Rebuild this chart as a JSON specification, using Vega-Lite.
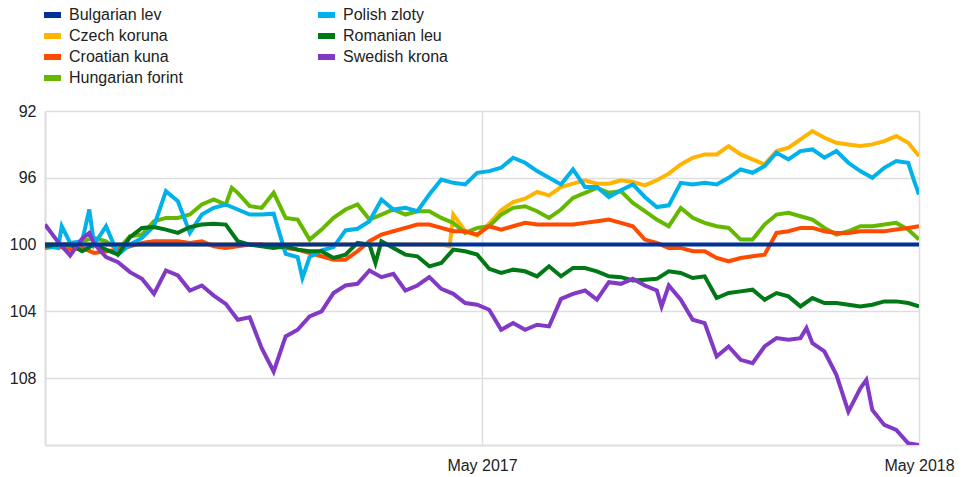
{
  "$schema": "https://vega.github.io/schema/vega-lite/v6.json",
  "width": 874,
  "height": 334,
  "autosize": {"type": "none"},
  "padding": {"left": 45, "top": 111, "right": 47, "bottom": 32},
  "config": {"view": {"stroke": null}, "font": "Liberation Sans"},
  "data": {"values": [
    {"date": "2016-05-01", "Bulgarian lev": 100, "Czech koruna": 100.0, "Croatian kuna": 100.2, "Hungarian forint": 100.0, "Polish zloty": 100.1, "Romanian leu": 100.1, "Swedish krona": 98.8},
    {"date": "2016-05-12", "Czech koruna": 100.0, "Croatian kuna": 100.1, "Hungarian forint": 100.0, "Polish zloty": 100.2, "Romanian leu": 100.0, "Swedish krona": 99.85},
    {"date": "2016-05-15", "Polish zloty": 98.9},
    {"date": "2016-05-22", "Czech koruna": 100.0, "Croatian kuna": 100.3, "Hungarian forint": 100.2, "Polish zloty": 99.9, "Romanian leu": 100.0, "Swedish krona": 100.65},
    {"date": "2016-06-01", "Czech koruna": 100.0, "Croatian kuna": 100.2, "Hungarian forint": 99.8, "Polish zloty": 99.8, "Romanian leu": 100.4, "Swedish krona": 99.65},
    {"date": "2016-06-07", "Polish zloty": 97.9, "Swedish krona": 99.3},
    {"date": "2016-06-11", "Czech koruna": 100.0, "Croatian kuna": 100.5, "Hungarian forint": 99.6, "Polish zloty": 100.0, "Romanian leu": 100.0, "Swedish krona": 99.95},
    {"date": "2016-06-21", "Czech koruna": 100.0, "Croatian kuna": 100.4, "Hungarian forint": 99.8, "Polish zloty": 98.9, "Romanian leu": 100.3, "Swedish krona": 100.75},
    {"date": "2016-07-01", "Czech koruna": 100.0, "Croatian kuna": 100.3, "Hungarian forint": 100.3, "Polish zloty": 100.6, "Romanian leu": 100.6, "Swedish krona": 101.05},
    {"date": "2016-07-11", "Czech koruna": 100.0, "Croatian kuna": 100.1, "Hungarian forint": 99.5, "Polish zloty": 100.0, "Romanian leu": 99.55, "Swedish krona": 101.65},
    {"date": "2016-07-21", "Czech koruna": 100.0, "Croatian kuna": 99.9, "Hungarian forint": 99.4, "Polish zloty": 99.6, "Romanian leu": 99.0, "Swedish krona": 102.05},
    {"date": "2016-07-31", "Czech koruna": 100.0, "Croatian kuna": 99.8, "Hungarian forint": 98.6, "Polish zloty": 98.9, "Romanian leu": 98.95, "Swedish krona": 102.95},
    {"date": "2016-08-10", "Czech koruna": 100.0, "Croatian kuna": 99.8, "Hungarian forint": 98.4, "Polish zloty": 96.8, "Romanian leu": 99.1, "Swedish krona": 101.55},
    {"date": "2016-08-20", "Czech koruna": 100.0, "Croatian kuna": 99.8, "Hungarian forint": 98.4, "Polish zloty": 97.4, "Romanian leu": 99.3, "Swedish krona": 101.85},
    {"date": "2016-08-30", "Czech koruna": 100.0, "Croatian kuna": 99.9, "Hungarian forint": 98.2, "Polish zloty": 99.3, "Romanian leu": 98.95, "Swedish krona": 102.75},
    {"date": "2016-09-09", "Czech koruna": 100.0, "Croatian kuna": 99.8, "Hungarian forint": 97.6, "Polish zloty": 98.2, "Romanian leu": 98.8, "Swedish krona": 102.45},
    {"date": "2016-09-19", "Czech koruna": 100.0, "Croatian kuna": 100.1, "Hungarian forint": 97.3, "Polish zloty": 97.8, "Romanian leu": 98.75, "Swedish krona": 103.05},
    {"date": "2016-09-29", "Czech koruna": 100.0, "Croatian kuna": 100.2, "Hungarian forint": 97.6, "Polish zloty": 97.6, "Romanian leu": 98.8, "Swedish krona": 103.55},
    {"date": "2016-10-04", "Hungarian forint": 96.6},
    {"date": "2016-10-09", "Czech koruna": 100.0, "Croatian kuna": 100.1, "Hungarian forint": 96.9, "Polish zloty": 97.9, "Romanian leu": 99.8, "Swedish krona": 104.5},
    {"date": "2016-10-19", "Czech koruna": 100.0, "Croatian kuna": 100.0, "Hungarian forint": 97.7, "Polish zloty": 98.2, "Romanian leu": 100.0, "Swedish krona": 104.35},
    {"date": "2016-10-29", "Czech koruna": 100.0, "Croatian kuna": 100.0, "Hungarian forint": 97.8, "Polish zloty": 98.2, "Romanian leu": 100.1, "Swedish krona": 106.2},
    {"date": "2016-11-08", "Czech koruna": 100.0, "Croatian kuna": 100.1, "Hungarian forint": 96.9, "Polish zloty": 98.15, "Romanian leu": 100.2, "Swedish krona": 107.6},
    {"date": "2016-11-18", "Czech koruna": 100.0, "Croatian kuna": 100.2, "Hungarian forint": 98.4, "Polish zloty": 100.55, "Romanian leu": 100.1, "Swedish krona": 105.5},
    {"date": "2016-11-28", "Czech koruna": 100.0, "Croatian kuna": 100.3, "Hungarian forint": 98.5, "Polish zloty": 100.75, "Romanian leu": 100.3, "Swedish krona": 105.1},
    {"date": "2016-12-02", "Polish zloty": 102.0},
    {"date": "2016-12-08", "Czech koruna": 100.0, "Croatian kuna": 100.5, "Hungarian forint": 99.7, "Polish zloty": 100.75, "Romanian leu": 100.4, "Swedish krona": 104.3},
    {"date": "2016-12-18", "Czech koruna": 100.0, "Croatian kuna": 100.7, "Hungarian forint": 99.1, "Polish zloty": 100.35, "Romanian leu": 100.4, "Swedish krona": 104.0},
    {"date": "2016-12-28", "Czech koruna": 100.0, "Croatian kuna": 100.9, "Hungarian forint": 98.4, "Polish zloty": 100.15, "Romanian leu": 100.8, "Swedish krona": 102.9},
    {"date": "2017-01-07", "Czech koruna": 100.0, "Croatian kuna": 100.9, "Hungarian forint": 97.9, "Polish zloty": 99.15, "Romanian leu": 100.6, "Swedish krona": 102.45},
    {"date": "2017-01-17", "Czech koruna": 100.0, "Croatian kuna": 100.4, "Hungarian forint": 97.6, "Polish zloty": 99.05, "Romanian leu": 99.9, "Swedish krona": 102.35},
    {"date": "2017-01-27", "Czech koruna": 100.0, "Croatian kuna": 99.8, "Hungarian forint": 98.5, "Polish zloty": 98.6, "Romanian leu": 100.0, "Swedish krona": 101.55},
    {"date": "2017-02-01", "Romanian leu": 101.1},
    {"date": "2017-02-06", "Czech koruna": 100.0, "Croatian kuna": 99.4, "Hungarian forint": 98.2, "Polish zloty": 97.3, "Romanian leu": 99.8, "Swedish krona": 101.95},
    {"date": "2017-02-16", "Czech koruna": 100.0, "Croatian kuna": 99.2, "Hungarian forint": 97.9, "Polish zloty": 97.9, "Romanian leu": 100.2, "Swedish krona": 101.75},
    {"date": "2017-02-26", "Czech koruna": 100.0, "Croatian kuna": 99.0, "Hungarian forint": 98.2, "Polish zloty": 97.8, "Romanian leu": 100.6, "Swedish krona": 102.75},
    {"date": "2017-03-08", "Czech koruna": 100.0, "Croatian kuna": 98.8, "Hungarian forint": 98.0, "Polish zloty": 98.0, "Romanian leu": 100.7, "Swedish krona": 102.45},
    {"date": "2017-03-18", "Czech koruna": 100.0, "Croatian kuna": 98.8, "Hungarian forint": 98.0, "Polish zloty": 97.0, "Romanian leu": 101.3, "Swedish krona": 101.95},
    {"date": "2017-03-28", "Czech koruna": 100.0, "Croatian kuna": 99.0, "Hungarian forint": 98.4, "Polish zloty": 96.1, "Romanian leu": 101.1, "Swedish krona": 102.65},
    {"date": "2017-04-04", "Czech koruna": 100.1},
    {"date": "2017-04-07", "Czech koruna": 98.2, "Croatian kuna": 99.2, "Hungarian forint": 98.7, "Polish zloty": 96.3, "Romanian leu": 100.3, "Swedish krona": 102.95},
    {"date": "2017-04-17", "Czech koruna": 99.2, "Croatian kuna": 99.2, "Hungarian forint": 99.3, "Polish zloty": 96.4, "Romanian leu": 100.4, "Swedish krona": 103.5},
    {"date": "2017-04-27", "Czech koruna": 99.45, "Croatian kuna": 99.4, "Hungarian forint": 99.0, "Polish zloty": 95.7, "Romanian leu": 100.6, "Swedish krona": 103.6},
    {"date": "2017-05-07", "Czech koruna": 98.75, "Croatian kuna": 98.9, "Hungarian forint": 98.9, "Polish zloty": 95.6, "Romanian leu": 101.45, "Swedish krona": 103.9},
    {"date": "2017-05-17", "Czech koruna": 97.95, "Croatian kuna": 99.1, "Hungarian forint": 98.2, "Polish zloty": 95.4, "Romanian leu": 101.7, "Swedish krona": 105.1},
    {"date": "2017-05-27", "Czech koruna": 97.45, "Croatian kuna": 98.9, "Hungarian forint": 97.8, "Polish zloty": 94.8, "Romanian leu": 101.5, "Swedish krona": 104.7},
    {"date": "2017-06-06", "Czech koruna": 97.25, "Croatian kuna": 98.7, "Hungarian forint": 97.7, "Polish zloty": 95.1, "Romanian leu": 101.6, "Swedish krona": 105.1},
    {"date": "2017-06-16", "Czech koruna": 96.85, "Croatian kuna": 98.8, "Hungarian forint": 98.0, "Polish zloty": 95.6, "Romanian leu": 101.9, "Swedish krona": 104.8},
    {"date": "2017-06-26", "Czech koruna": 97.05, "Croatian kuna": 98.8, "Hungarian forint": 98.4, "Polish zloty": 96.0, "Romanian leu": 101.3, "Swedish krona": 104.9},
    {"date": "2017-07-06", "Czech koruna": 96.55, "Croatian kuna": 98.8, "Hungarian forint": 97.9, "Polish zloty": 96.4, "Romanian leu": 101.9, "Swedish krona": 103.25},
    {"date": "2017-07-16", "Czech koruna": 96.35, "Croatian kuna": 98.8, "Hungarian forint": 97.2, "Polish zloty": 95.5, "Romanian leu": 101.4, "Swedish krona": 102.95},
    {"date": "2017-07-26", "Czech koruna": 96.15, "Croatian kuna": 98.7, "Hungarian forint": 96.9, "Polish zloty": 96.55, "Romanian leu": 101.4, "Swedish krona": 102.75},
    {"date": "2017-08-05", "Czech koruna": 96.35, "Croatian kuna": 98.6, "Hungarian forint": 96.6, "Polish zloty": 96.55, "Romanian leu": 101.6, "Swedish krona": 103.3},
    {"date": "2017-08-15", "Czech koruna": 96.35, "Croatian kuna": 98.5, "Hungarian forint": 96.9, "Polish zloty": 97.15, "Romanian leu": 101.9, "Swedish krona": 102.25},
    {"date": "2017-08-25", "Czech koruna": 96.15, "Croatian kuna": 98.7, "Hungarian forint": 96.8, "Polish zloty": 96.75, "Romanian leu": 101.95, "Swedish krona": 102.35},
    {"date": "2017-09-04", "Czech koruna": 96.25, "Croatian kuna": 98.9, "Hungarian forint": 97.5, "Polish zloty": 96.4, "Romanian leu": 102.15, "Swedish krona": 102.05},
    {"date": "2017-09-14", "Czech koruna": 96.45, "Croatian kuna": 99.7, "Hungarian forint": 98.0, "Polish zloty": 97.15, "Romanian leu": 102.1, "Swedish krona": 102.45},
    {"date": "2017-09-24", "Czech koruna": 96.15, "Croatian kuna": 99.9, "Hungarian forint": 98.5, "Polish zloty": 97.75, "Romanian leu": 102.05, "Swedish krona": 102.75},
    {"date": "2017-09-28", "Swedish krona": 103.7},
    {"date": "2017-10-04", "Czech koruna": 95.75, "Croatian kuna": 100.2, "Hungarian forint": 98.9, "Polish zloty": 97.65, "Romanian leu": 101.6, "Swedish krona": 102.45},
    {"date": "2017-10-14", "Czech koruna": 95.2, "Croatian kuna": 100.2, "Hungarian forint": 97.8, "Polish zloty": 96.3, "Romanian leu": 101.7, "Swedish krona": 103.3},
    {"date": "2017-10-24", "Czech koruna": 94.8, "Croatian kuna": 100.4, "Hungarian forint": 98.4, "Polish zloty": 96.4, "Romanian leu": 102.0, "Swedish krona": 104.5},
    {"date": "2017-11-03", "Czech koruna": 94.6, "Croatian kuna": 100.4, "Hungarian forint": 98.7, "Polish zloty": 96.3, "Romanian leu": 101.9, "Swedish krona": 104.7},
    {"date": "2017-11-13", "Czech koruna": 94.6, "Croatian kuna": 100.8, "Hungarian forint": 98.9, "Polish zloty": 96.4, "Romanian leu": 103.2, "Swedish krona": 106.7},
    {"date": "2017-11-23", "Czech koruna": 94.1, "Croatian kuna": 101.0, "Hungarian forint": 99.0, "Polish zloty": 96.0, "Romanian leu": 102.9, "Swedish krona": 106.1},
    {"date": "2017-12-03", "Czech koruna": 94.6, "Croatian kuna": 100.8, "Hungarian forint": 99.7, "Polish zloty": 95.5, "Romanian leu": 102.8, "Swedish krona": 106.9},
    {"date": "2017-12-13", "Czech koruna": 94.9, "Croatian kuna": 100.7, "Hungarian forint": 99.7, "Polish zloty": 95.7, "Romanian leu": 102.7, "Swedish krona": 107.1},
    {"date": "2017-12-23", "Czech koruna": 95.2, "Croatian kuna": 100.6, "Hungarian forint": 98.8, "Polish zloty": 95.3, "Romanian leu": 103.3, "Swedish krona": 106.1},
    {"date": "2018-01-02", "Czech koruna": 94.4, "Croatian kuna": 99.3, "Hungarian forint": 98.2, "Polish zloty": 94.5, "Romanian leu": 102.9, "Swedish krona": 105.6},
    {"date": "2018-01-12", "Czech koruna": 94.2, "Croatian kuna": 99.2, "Hungarian forint": 98.1, "Polish zloty": 94.9, "Romanian leu": 103.1, "Swedish krona": 105.7},
    {"date": "2018-01-22", "Czech koruna": 93.7, "Croatian kuna": 99.0, "Hungarian forint": 98.3, "Polish zloty": 94.4, "Romanian leu": 103.7, "Swedish krona": 105.6},
    {"date": "2018-01-27", "Swedish krona": 105.0},
    {"date": "2018-02-01", "Czech koruna": 93.2, "Croatian kuna": 99.0, "Hungarian forint": 98.5, "Polish zloty": 94.3, "Romanian leu": 103.2, "Swedish krona": 105.9},
    {"date": "2018-02-11", "Czech koruna": 93.6, "Croatian kuna": 99.2, "Hungarian forint": 99.0, "Polish zloty": 94.8, "Romanian leu": 103.5, "Swedish krona": 106.4},
    {"date": "2018-02-21", "Czech koruna": 93.9, "Croatian kuna": 99.3, "Hungarian forint": 99.4, "Polish zloty": 94.4, "Romanian leu": 103.5, "Swedish krona": 107.8},
    {"date": "2018-03-03", "Czech koruna": 94.0, "Croatian kuna": 99.3, "Hungarian forint": 99.2, "Polish zloty": 95.1, "Romanian leu": 103.6, "Swedish krona": 110.0},
    {"date": "2018-03-13", "Czech koruna": 94.1, "Croatian kuna": 99.2, "Hungarian forint": 98.9, "Polish zloty": 95.6, "Romanian leu": 103.7, "Swedish krona": 108.6},
    {"date": "2018-03-18", "Swedish krona": 108.1},
    {"date": "2018-03-23", "Czech koruna": 94.0, "Croatian kuna": 99.2, "Hungarian forint": 98.9, "Polish zloty": 96.0, "Romanian leu": 103.6, "Swedish krona": 109.9},
    {"date": "2018-04-02", "Czech koruna": 93.8, "Croatian kuna": 99.2, "Hungarian forint": 98.8, "Polish zloty": 95.4, "Romanian leu": 103.4, "Swedish krona": 110.8},
    {"date": "2018-04-12", "Czech koruna": 93.5, "Croatian kuna": 99.1, "Hungarian forint": 98.7, "Polish zloty": 95.0, "Romanian leu": 103.4, "Swedish krona": 111.1},
    {"date": "2018-04-22", "Czech koruna": 93.9, "Croatian kuna": 99.0, "Hungarian forint": 99.1, "Polish zloty": 95.1, "Romanian leu": 103.5, "Swedish krona": 111.9},
    {"date": "2018-04-27", "Polish zloty": 96.2},
    {"date": "2018-05-01", "Bulgarian lev": 100, "Czech koruna": 94.7, "Croatian kuna": 98.9, "Hungarian forint": 99.7, "Polish zloty": 97.0, "Romanian leu": 103.7, "Swedish krona": 112.0}
  ]},
  "transform": [
    {"fold": ["Czech koruna", "Hungarian forint", "Croatian kuna", "Polish zloty", "Romanian leu", "Swedish krona", "Bulgarian lev"], "as": ["currency", "value"]},
    {"filter": "isValid(datum.value)"}
  ],
  "mark": {"type": "line", "strokeWidth": 4, "clip": true},
  "encoding": {
    "x": {
      "field": "date", "type": "temporal",
      "scale": {"type": "utc", "domain": [{"year": 2016, "month": 5, "date": 1, "utc": true}, {"year": 2018, "month": 5, "date": 1, "utc": true}]},
      "axis": {
        "title": null,
        "values": [{"year": 2017, "month": 5, "date": 1, "utc": true}, {"year": 2018, "month": 5, "date": 1, "utc": true}],
        "format": "%b %Y",
        "ticks": false,
        "labelPadding": 12,
        "labelFontSize": 16,
        "labelColor": "#222222",
        "labelFlush": false,
        "grid": true,
        "gridColor": "#dddddd",
        "gridWidth": 1.5,
        "domainColor": "#dddddd",
        "domainWidth": 2
      }
    },
    "y": {
      "field": "value", "type": "quantitative",
      "scale": {"domain": [92, 112], "reverse": true, "zero": false, "nice": false},
      "axis": {
        "title": null,
        "values": [92, 96, 100, 104, 108],
        "ticks": false,
        "labelPadding": 9,
        "labelFontSize": 16,
        "labelColor": "#222222",
        "grid": true,
        "gridColor": "#dddddd",
        "gridWidth": 1.5,
        "domainColor": "#dddddd",
        "domainWidth": 2
      }
    },
    "color": {
      "field": "currency", "type": "nominal",
      "scale": {
        "domain": ["Bulgarian lev", "Czech koruna", "Croatian kuna", "Hungarian forint", "Polish zloty", "Romanian leu", "Swedish krona"],
        "range": ["#003299", "#FFB400", "#FF4B00", "#65B800", "#00B1EA", "#007816", "#8139C6"]
      },
      "legend": {
        "orient": "none",
        "legendX": -4,
        "legendY": -104.5,
        "direction": "vertical",
        "columns": 2,
        "columnPadding": 132,
        "rowPadding": 4,
        "clipHeight": 17,
        "title": null,
        "padding": 0,
        "symbolType": "stroke",
        "symbolSize": 289,
        "symbolStrokeWidth": 6,
        "labelFontSize": 16,
        "labelColor": "#222222",
        "labelOffset": 5,
        "labelLimit": 300
      }
    }
  }
}
